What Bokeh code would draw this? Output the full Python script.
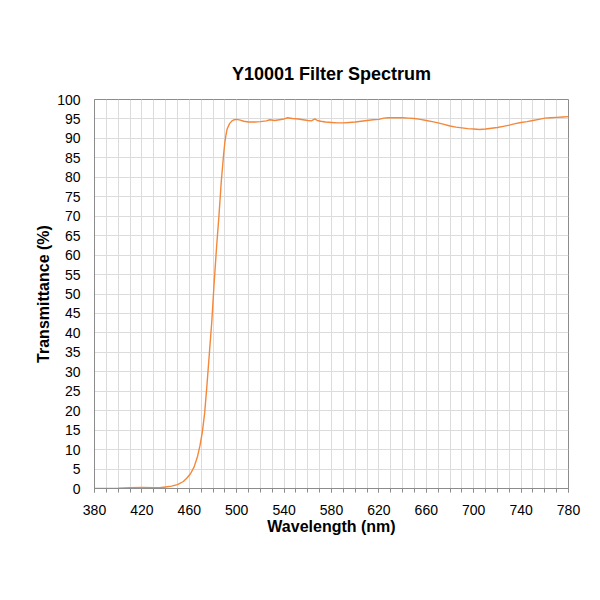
from bokeh.plotting import figure
from bokeh.models import SingleIntervalTicker, FixedTicker, Range1d
from bokeh.embed import file_html
from bokeh.resources import INLINE

# wavelength (nm) and transmittance (%)
wavelength = [380, 400, 410, 420, 430, 435, 440, 445, 450, 455, 458, 461, 464, 467,
              469, 471, 473, 475, 477, 479, 481, 483, 485, 487, 489, 490, 491, 492,
              494, 496, 498, 500, 503, 506, 510, 515, 520, 525, 528, 532, 536, 540,
              543, 547, 552, 556, 560, 563, 566, 568, 571, 575, 580, 585, 590, 595,
              600, 605, 610, 615, 620, 624, 628, 635, 640, 645, 650, 655, 660, 665,
              670, 675, 680, 685, 690, 695, 700, 705, 710, 715, 720, 725, 730, 735,
              740, 745, 750, 755, 760, 765, 770, 775, 780]
transmittance = [0.0, 0.05, 0.2, 0.3, 0.2, 0.2, 0.4, 0.6, 1.0, 1.8, 2.7, 3.8, 5.5, 8.3,
                 11.0, 14.5, 19.5, 27.0, 35.0, 43.0, 53.0, 62.0, 70.0, 79.0, 86.0, 89.0,
                 91.0, 92.5, 93.8, 94.5, 94.8, 94.9, 94.7, 94.4, 94.2, 94.2, 94.3, 94.5,
                 94.8, 94.6, 94.8, 95.0, 95.3, 95.1, 95.0, 94.8, 94.6, 94.5, 95.0, 94.6,
                 94.4, 94.2, 94.1, 94.0, 94.0, 94.1, 94.2, 94.4, 94.6, 94.8, 94.9, 95.2,
                 95.3, 95.3, 95.3, 95.2, 95.1, 94.9, 94.6, 94.3, 94.0, 93.6, 93.2, 92.9,
                 92.7, 92.5, 92.4, 92.3, 92.4, 92.6, 92.8, 93.1, 93.4, 93.8, 94.1, 94.3,
                 94.6, 94.9, 95.2, 95.3, 95.4, 95.5, 95.6]

x_ticks = [380, 420, 460, 500, 540, 580, 620, 660, 700, 740, 780]
x_minor_ticks = list(range(380, 781, 10))

FONT = "Liberation Sans"
GRID = "#dcdcdc"
EDGE = "#8c8c8c"

p = figure(width=584, height=584, output_backend="svg", toolbar_location=None,
           title="Y10001 Filter Spectrum",
           x_range=Range1d(380, 780), y_range=Range1d(0, 100),
           min_border_left=94, min_border_right=16, min_border_top=99, min_border_bottom=96)

p.title.align = "center"
p.title.text_font = FONT
p.title.text_font_size = "18px"
p.title.text_font_style = "bold"
p.title.text_color = "#000000"
p.title.standoff = 31

p.line(wavelength, transmittance, line_color="#F4873A", line_width=1.4)

p.xaxis.ticker = FixedTicker(ticks=x_ticks, minor_ticks=x_minor_ticks)
p.yaxis.ticker = SingleIntervalTicker(interval=5, num_minor_ticks=0)

p.xaxis.axis_label = "Wavelength (nm)"
p.yaxis.axis_label = "Transmittance (%)"

for ax in p.axis:
    ax.axis_line_color = EDGE
    ax.major_label_text_font = FONT
    ax.major_label_text_font_size = "14px"
    ax.major_label_text_color = "#000000"
    ax.axis_label_text_font = FONT
    ax.axis_label_text_font_size = "16px"
    ax.axis_label_text_font_style = "bold"
    ax.axis_label_text_color = "#000000"

p.xaxis.major_tick_line_color = EDGE
p.xaxis.minor_tick_line_color = EDGE
p.xaxis.major_tick_in = 0
p.xaxis.major_tick_out = 4
p.xaxis.minor_tick_in = 0
p.xaxis.minor_tick_out = 4
p.xaxis.major_label_standoff = 12
p.xaxis.axis_label_standoff = 0

p.yaxis.major_tick_line_color = None
p.yaxis.minor_tick_line_color = None
p.yaxis.major_label_standoff = 8
p.yaxis.axis_label_standoff = 2

p.xgrid.grid_line_color = GRID
p.xgrid.minor_grid_line_color = GRID
p.ygrid.grid_line_color = GRID

p.outline_line_color = EDGE
p.outline_line_width = 1

open("out.html", "w").write(file_html(p, INLINE))
